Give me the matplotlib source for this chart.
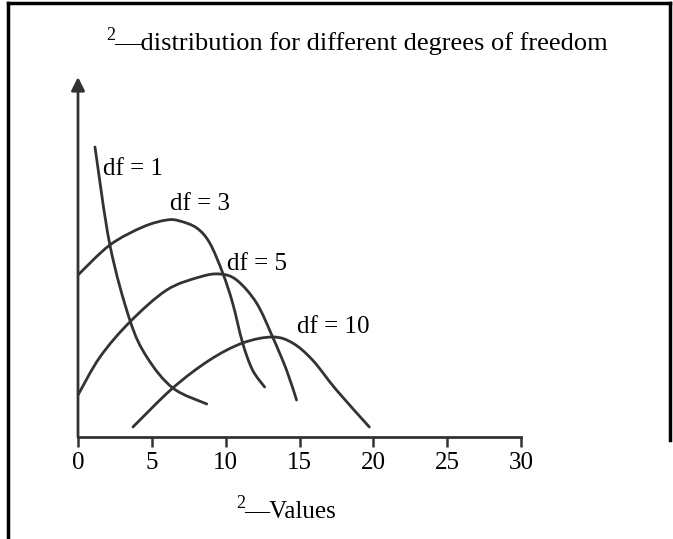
import numpy as np
import matplotlib
matplotlib.use('Agg')
import matplotlib.pyplot as plt
from matplotlib.path import Path
from matplotlib.patches import PathPatch
from matplotlib.lines import Line2D

plt.rcParams['font.family'] = ['Liberation Serif', 'DejaVu Serif']

# curve points (x = chi-square value, y = relative height)
df1_x = [1.15, 2.16, 3.51, 4.66, 6.42, 8.72]
df1_y = [2.90, 1.92, 1.17, 0.80, 0.49, 0.33]

df3_x = [0, 2.16, 4.39, 6.01, 6.89, 8.04, 8.92, 9.80, 10.47, 11.15, 11.82, 12.64]
df3_y = [1.62, 1.92, 2.10, 2.17, 2.16, 2.09, 1.94, 1.64, 1.34, 0.94, 0.67, 0.50]

df5_x = [0, 1.49, 3.51, 6.01, 8.24, 9.59, 10.74, 12.09, 13.18, 14.12, 14.80]
df5_y = [0.42, 0.80, 1.15, 1.47, 1.60, 1.63, 1.57, 1.34, 1.00, 0.67, 0.37]

df10_x = [3.72, 6.42, 8.92, 11.15, 13.18, 14.53, 15.88, 17.50, 19.73]
df10_y = [0.10, 0.49, 0.77, 0.94, 1.00, 0.94, 0.77, 0.47, 0.10]

curve_labels = ['df = 1', 'df = 3', 'df = 5', 'df = 10']
label_pos = [(1.69, 2.62), (6.2, 2.27), (10.1, 1.67), (14.86, 1.04)]
xticks = [0, 5, 10, 15, 20, 25, 30]

title = '\u2014distribution for different degrees of freedom'
xlabel = '\u2014Values'

INK = '#333333'


def smooth_path(xs, ys):
    # Catmull-Rom through the read points, drawn as cubic Bezier segments
    pts = np.column_stack([xs, ys])
    n = len(pts)
    verts = [pts[0]]
    codes = [Path.MOVETO]
    for i in range(n - 1):
        p0 = pts[max(i - 1, 0)]
        p1 = pts[i]
        p2 = pts[i + 1]
        p3 = pts[min(i + 2, n - 1)]
        verts += [p1 + (p2 - p0) / 6, p2 - (p3 - p1) / 6, p2]
        codes += [Path.CURVE4] * 3
    return Path(verts, codes)


fig = plt.figure(figsize=(6.73, 5.39), dpi=100)
ax = fig.add_axes([78 / 673, 102 / 539, 443 / 673, 360 / 539])
ax.set_xlim(0, 30)
ax.set_ylim(0, 3.6)

for xs, ys in [(df1_x, df1_y), (df3_x, df3_y), (df5_x, df5_y), (df10_x, df10_y)]:
    ax.add_patch(PathPatch(smooth_path(xs, ys), facecolor='none',
                           edgecolor=INK, lw=2, capstyle='round'))

for lab, (lx, ly) in zip(curve_labels, label_pos):
    ax.text(lx, ly, lab, fontsize=18, ha='left', va='baseline', color='black')

for s in ['top', 'right', 'left']:
    ax.spines[s].set_visible(False)
ax.spines['bottom'].set_color(INK)
ax.spines['bottom'].set_linewidth(2)
ax.set_xticks(xticks)
ax.set_xticklabels([str(t) for t in xticks])
ax.tick_params(axis='x', direction='out', length=7, width=1.8, color=INK,
               labelsize=18, pad=4)
ax.set_yticks([])

# y axis with arrow head
ax.annotate('', xy=(0, 3.6), xytext=(0, 0),
            arrowprops=dict(arrowstyle='-|>', lw=2, color=INK,
                            mutation_scale=20, shrinkA=0, shrinkB=0),
            annotation_clip=False)

# title and x label, each with a raised "2" in front
fig.text(106 / 673, 1 - 40 / 539, '2', fontsize=13, ha='left', va='baseline')
fig.text(114 / 673, 1 - 50 / 539, title, fontsize=19, ha='left', va='baseline')
fig.text(236 / 673, 1 - 508 / 539, '2', fontsize=13, ha='left', va='baseline')
fig.text(244 / 673, 1 - 518 / 539, xlabel, fontsize=18, ha='left', va='baseline')

# frame lines around the figure
fig.add_artist(Line2D([8 / 673, 670 / 673], [1 - 3 / 539, 1 - 3 / 539],
                      color='black', lw=2.5))
fig.add_artist(Line2D([8 / 673, 8 / 673], [0, 1 - 3 / 539], color='black', lw=2.5))
fig.add_artist(Line2D([670 / 673, 670 / 673], [1 - 440 / 539, 1 - 3 / 539],
                      color='black', lw=2.5))

fig.savefig('out.png', dpi=100, facecolor='white')
